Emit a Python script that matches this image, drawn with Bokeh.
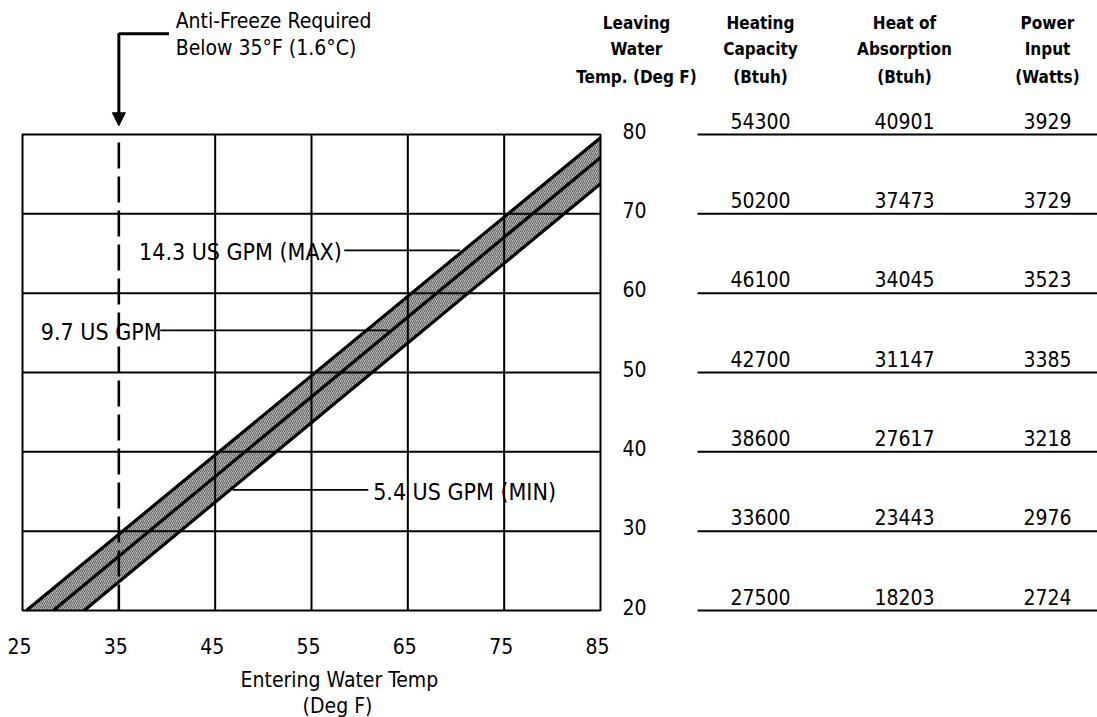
from bokeh.plotting import figure
from bokeh.models import Range1d, Label, Arrow, NormalHead
from bokeh.core.properties import value
from bokeh.embed import file_html
from bokeh.resources import INLINE

# ---------------- data ----------------
ewt_ticks = [25, 35, 45, 55, 65, 75, 85]          # Entering Water Temp (Deg F)
lwt_ticks = [20, 30, 40, 50, 60, 70, 80]          # Leaving Water Temp (Deg F)
antifreeze_ewt = 35

# flow lines (EWT, LWT end points)
max_ewt = [25.4, 85.0]   # 14.3 US GPM (MAX)
max_lwt = [20.0, 79.6]
mid_ewt = [28.2, 85.0]   # 9.7 US GPM
mid_lwt = [20.0, 77.1]
min_ewt = [31.4, 85.0]   # 5.4 US GPM (MIN)
min_lwt = [20.0, 73.8]

leaving_temp = [80, 70, 60, 50, 40, 30, 20]
heating_capacity = [54300, 50200, 46100, 42700, 38600, 33600, 27500]
heat_absorption = [40901, 37473, 34045, 31147, 27617, 23443, 18203]
power_input = [3929, 3729, 3523, 3385, 3218, 2976, 2724]

headers = [
    ["Leaving", "Water", "Temp. (Deg F)"],
    ["Heating", "Capacity", "(Btuh)"],
    ["Heat of", "Absorption", "(Btuh)"],
    ["Power", "Input", "(Watts)"],
]

# ---------------- layout ----------------
W, H = 1097, 717
PAGE = 0
PX_X25, PX_X85 = 22.0, 600.0      # page px of EWT 25 / 85
PY_Y80, PY_Y20 = 134.0, 610.0     # page px of LWT 80 / 20
kx = (PX_X85 - PX_X25) / 60.0
ky = (PY_Y20 - PY_Y80) / 60.0
x0 = 25 - (PX_X25 - PAGE) / kx
x1 = x0 + W / kx
y1 = 80 + (PY_Y80 - PAGE) / ky
y0 = y1 - H / ky

FONT_NAME = "Liberation Sans Narrow, DejaVu Sans Condensed, Liberation Sans, sans-serif"
FONT = value(FONT_NAME)

p = figure(width=W, height=H, output_backend="svg", toolbar_location=None,
           x_range=Range1d(x0, x1), y_range=Range1d(y0, y1),
           min_border=0, min_border_left=0, min_border_right=0,
           min_border_top=0, min_border_bottom=0)
p.xaxis.visible = False
p.yaxis.visible = False
p.grid.visible = False
p.outline_line_color = None
p.background_fill_color = "white"
p.border_fill_color = "white"
p.extra_x_ranges = {"page": Range1d(PAGE, PAGE + W)}

xmin, xmax = ewt_ticks[0], ewt_ticks[-1]
ymin, ymax = lwt_ticks[0], lwt_ticks[-1]

# bands (shaded)
band_style = dict(fill_color="#b4b4b4", line_color=None,
                  hatch_pattern="/", hatch_color="#4e4e4e", hatch_scale=4, hatch_weight=0.8)
p.patch(max_ewt + mid_ewt[::-1], max_lwt + mid_lwt[::-1], **band_style)
p.patch(mid_ewt + min_ewt[::-1], mid_lwt + min_lwt[::-1], **band_style)

# grid
inner_x = [t for t in ewt_ticks[1:-1] if t != antifreeze_ewt]
p.segment(x0=inner_x, x1=inner_x, y0=[ymin] * len(inner_x), y1=[ymax] * len(inner_x),
          line_color="black", line_width=2)
inner_y = lwt_ticks[1:-1]
p.segment(x0=[xmin] * len(inner_y), x1=[xmax] * len(inner_y), y0=inner_y, y1=inner_y,
          line_color="black", line_width=2)
p.quad(left=xmin, right=xmax, bottom=ymin, top=ymax, fill_color=None,
       line_color="black", line_width=2)

# flow lines
for xs, ys in [(max_ewt, max_lwt), (mid_ewt, mid_lwt), (min_ewt, min_lwt)]:
    p.line(xs, ys, line_color="black", line_width=3.2)

# anti-freeze dashed line
p.line([antifreeze_ewt, antifreeze_ewt], [ymin, ymax], line_color="black",
       line_width=2.6, line_dash="26 8")

# anti-freeze arrow and note
p.line([40.2, antifreeze_ewt], [92.7, 92.7], line_color="black", line_width=3)
p.add_layout(Arrow(end=NormalHead(size=13, fill_color="black", line_color="black"),
                   x_start=antifreeze_ewt, y_start=92.75, x_end=antifreeze_ewt, y_end=81.1,
                   line_color="black", line_width=3))
for txt, yy in [("Anti-Freeze Required", 94.25), ("Below 35°F (1.6°C)", 90.85)]:
    p.add_layout(Label(x=40.9, y=yy, text=txt, text_font=FONT_NAME, text_font_size="21px",
                       text_baseline="middle", text_color="black"))

# flow labels with leaders
p.add_layout(Label(x=37.1, y=65.2, text="14.3 US GPM (MAX)", text_font=FONT_NAME,
                   text_font_size="23px", text_baseline="middle", text_color="black"))
p.line([58.4, 70.4], [65.4, 65.4], line_color="black", line_width=1.8)
p.add_layout(Label(x=26.9, y=55.1, text="9.7 US GPM", text_font=FONT_NAME,
                   text_font_size="23px", text_baseline="middle", text_color="black"))
p.line([39.3, 63.0], [55.3, 55.3], line_color="black", line_width=1.8)
p.add_layout(Label(x=61.4, y=34.9, text="5.4 US GPM (MIN)", text_font=FONT_NAME,
                   text_font_size="23px", text_baseline="middle", text_color="black"))
p.line([46.8, 60.9], [35.2, 35.2], line_color="black", line_width=1.8)

# x tick labels
p.text(x=ewt_ticks, y=[ymin] * len(ewt_ticks), text=[str(t) for t in ewt_ticks],
       text_font=FONT, text_font_size="21px", text_align="center",
       text_baseline="middle", y_offset=35, x_offset=-3, text_color="black")
# x axis title
p.text(x=[57.9, 57.7], y=[ymin, ymin], text=["Entering Water Temp", "(Deg F)"],
       text_font=FONT, text_font_size="21px", text_align="center",
       text_baseline="middle", y_offset=[69, 95], text_color="black")

# y tick labels (right of chart)
p.text(x=[xmax] * len(lwt_ticks), y=lwt_ticks, text=[str(t) for t in lwt_ticks],
       text_font=FONT, text_font_size="21px", text_align="center",
       text_baseline="middle", x_offset=34, y_offset=-4, text_color="black")

# table
TBL_L, TBL_R = 697, 1097
col_x = [636, 760, 904, 1047]
n = len(leaving_temp)
p.segment(x0=[TBL_L] * n, x1=[TBL_R] * n, y0=leaving_temp, y1=leaving_temp,
          x_range_name="page", line_color="black", line_width=2)
for cx, vals in zip(col_x[1:], [heating_capacity, heat_absorption, power_input]):
    p.text(x=[cx] * n, y=leaving_temp, text=[str(v) for v in vals], x_range_name="page",
           text_font=FONT, text_font_size="21px", text_align="center",
           text_baseline="middle", y_offset=-14, text_color="black")

# headers
for cx, lines in zip(col_x, headers):
    p.text(x=[cx] * 3, y=[ymax] * 3, text=lines, x_range_name="page",
           text_font=FONT, text_font_size="17px", text_font_style="bold",
           text_align="center", text_baseline="middle",
           y_offset=[-112, -86, -58], text_color="black")

open("out.html", "w").write(file_html(p, INLINE))
